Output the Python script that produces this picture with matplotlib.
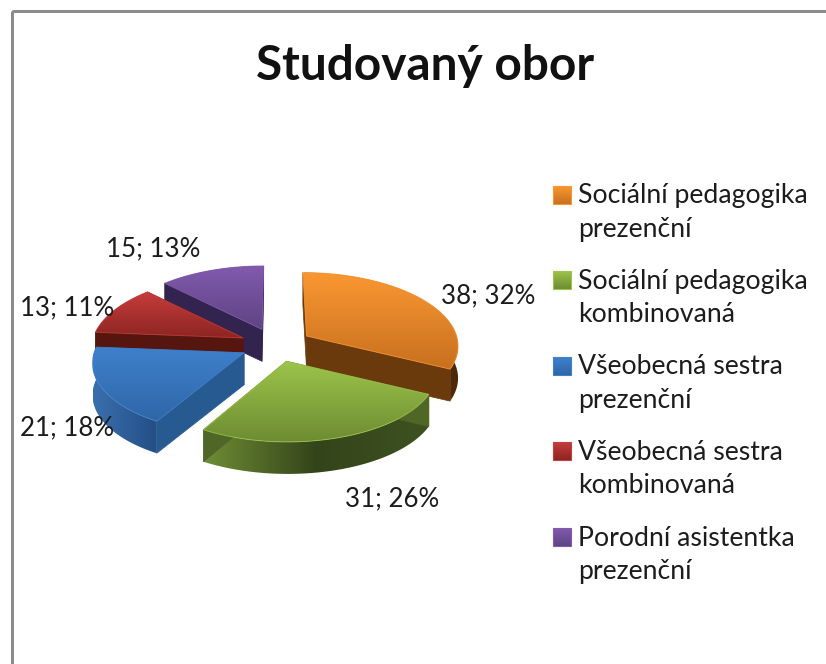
import numpy as np
import matplotlib
matplotlib.use("Agg")
import matplotlib.pyplot as plt
from matplotlib.colors import LinearSegmentedColormap
from matplotlib.patches import Polygon, Rectangle

plt.rcParams['font.family'] = ['Lato', 'DejaVu Sans']

title = "Studovaný obor"
values = [38, 31, 21, 13, 15]
legend_lines = [
    ["Sociální pedagogika", "prezenční"],
    ["Sociální pedagogika", "kombinovaná"],
    ["Všeobecná sestra", "prezenční"],
    ["Všeobecná sestra", "kombinovaná"],
    ["Porodní asistentka", "prezenční"],
]
top_colors = [
    ["#fa9732", "#c8701f"],
    ["#9dc44b", "#6d8c32"],
    ["#3f80cc", "#2f67a8"],
    ["#c63d3b", "#8c2522"],
    ["#825aae", "#5e4484"],
]
cut_colors = ["#6a390c", "#4f6626", "#285a92", "#56150f", "#33234f"]
wall_colors = [
    ["#7a430f", "#4d2906"],
    ["#6f8d35", "#33441a", "#3e5220"],
    ["#3a6fae", "#244e84"],
    ["#7a1f1c", "#56150f"],
    ["#4a3370", "#33234f"],
]
label_pos = [(441, 296), (345, 499), (20, 428), (20, 308), (106, 249)]
legend_y = [196, 281, 367, 452, 538]

# pie layout in pixels
cx, cy = 276, 345
rx, ry = 150, 72
ex, ey = 36, 17
depth = 32
persp = 0.12

fig = plt.figure(figsize=(8.26, 6.64), dpi=100)
ax = fig.add_axes([0, 0, 1, 1])


def project(ang, rad, mid):
    X = np.sin(ang) * rad
    Y = -np.cos(ang) * rad
    s = 1 + persp * Y
    x = cx + (ex * np.sin(mid) + rx * X) * s
    y = cy - ey * np.cos(mid) + ry * Y * s
    return x, y


def gradient_fill(pts, colors, vertical, z):
    cmap = LinearSegmentedColormap.from_list("g", colors)
    patch = Polygon(pts, closed=True, fc="none", ec="none", zorder=z)
    ax.add_patch(patch)
    grad = np.linspace(0, 1, 128)
    grad = grad[:, None] if vertical else grad[None, :]
    im = ax.imshow(grad, cmap=cmap, aspect="auto", zorder=z,
                   extent=[pts[:, 0].min(), pts[:, 0].max(),
                           pts[:, 1].max(), pts[:, 1].min()])
    im.set_clip_path(patch)
    return patch


def cut_wall(ang, mid, color, z):
    xa, ya = project(0.0, 0.0, mid)
    xb, yb = project(ang, 1.0, mid)
    pts = [(xa, ya), (xb, yb), (xb, yb + depth), (xa, ya + depth)]
    ax.add_patch(Polygon(pts, closed=True, fc=color, ec=color, lw=0.5, zorder=z))


total = sum(values)
edges = np.concatenate([[0], np.cumsum(values)]) / total * 2 * np.pi
z = 2
# painter's order, the slices at the back go first
for i in [4, 3, 0, 2, 1]:
    a0, a1 = edges[i], edges[i + 1]
    mid = (a0 + a1) / 2
    arc = np.linspace(a0, a1, 80)
    ax_, ay_ = project(arc, 1.0, mid)

    wall = np.vstack([np.column_stack([ax_, ay_]),
                      np.column_stack([ax_, ay_ + depth])[::-1]])
    gradient_fill(wall, wall_colors[i], False, z)
    z += 1

    # the cut face nearer to the viewer is painted last
    angs = sorted([a0, a1], key=lambda a: -np.cos(a))
    for a in angs:
        cut_wall(a, mid, cut_colors[i], z)
        z += 1

    xa, ya = project(0.0, 0.0, mid)
    top = np.vstack([[xa, ya], np.column_stack([ax_, ay_])])
    gradient_fill(top, top_colors[i], True, z)
    z += 1
    ax.add_patch(Polygon(top, closed=True, fc="none", ec=top_colors[i][0],
                         lw=0.7, alpha=0.8, zorder=z))
    z += 1

for i, v in enumerate(values):
    txt = "%d; %d%%" % (v, round(v / total * 100))
    ax.text(label_pos[i][0], label_pos[i][1], txt, fontsize=18.6, color="#1c1c1c",
            ha="left", va="center", zorder=100)

ax.text(425, 66, title, fontsize=34.4, fontweight="bold", color="#111111",
        ha="center", va="center", zorder=100)

swatch = 18
for i, y in enumerate(legend_y):
    sq = np.array([(553, y - 10), (553 + swatch, y - 10),
                   (553 + swatch, y + 8), (553, y + 8)], dtype=float)
    gradient_fill(sq, top_colors[i], True, 100)
    ax.add_patch(Polygon(sq, closed=True, fc="none", ec=top_colors[i][0], lw=0.8, zorder=101))
    ax.text(578, y, legend_lines[i][0], fontsize=19.2, color="#1c1c1c",
            ha="left", va="center", zorder=100)
    ax.text(578, y + 33.5, legend_lines[i][1], fontsize=19.2, color="#1c1c1c",
            ha="left", va="center", zorder=100)

# chart frame runs off the right and bottom of the picture
ax.add_patch(Rectangle((11.5, 10.5), 1000, 1000, fc="none", ec="#8c8c8c", lw=2.16, zorder=1))

ax.set_xlim(0, 826)
ax.set_ylim(664, 0)
ax.axis("off")
fig.savefig("out.png", dpi=100)
